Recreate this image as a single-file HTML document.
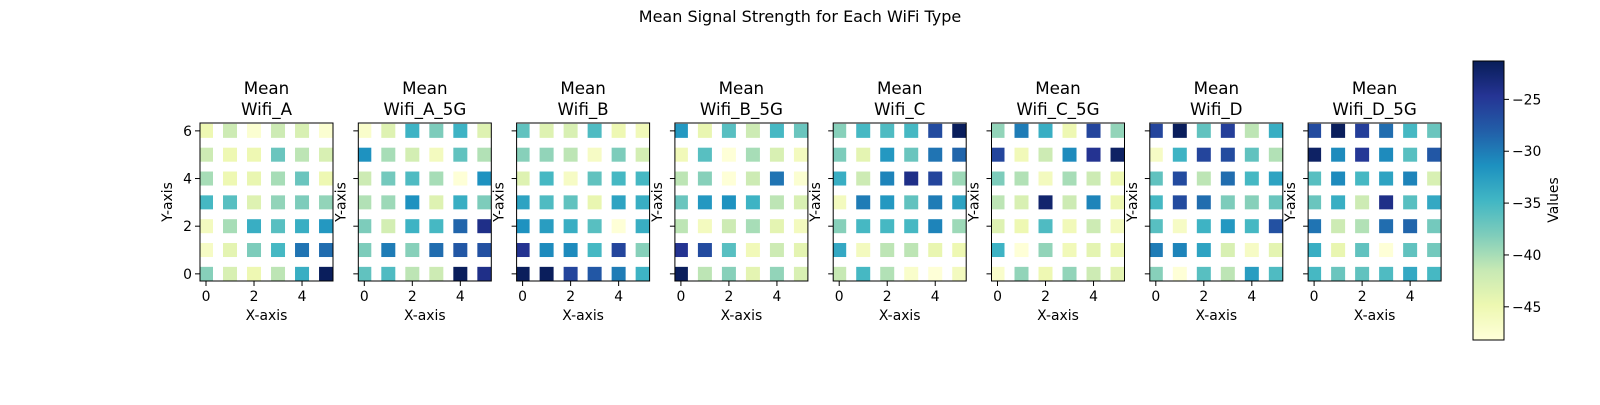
<!DOCTYPE html>
<html><head><meta charset="utf-8"><style>
body{margin:0;background:#fff}
svg text{font-family:"DejaVu Sans","Liberation Sans",sans-serif;fill:#000}
</style></head><body>
<svg id="fig" width="1600" height="400" xmlns="http://www.w3.org/2000/svg">
<rect width="1600" height="400" fill="#fff"/>
<text x="800" y="22" font-size="16" text-anchor="middle">Mean Signal Strength for Each WiFi Type</text>
<g id="panels"></g>
<g id="cbar"></g>
</svg>
<script>
const wifiTypes=["Wifi_A","Wifi_A_5G","Wifi_B","Wifi_B_5G","Wifi_C","Wifi_C_5G","Wifi_D","Wifi_D_5G"];
const xTicks=[0,2,4];
const yTicks=[0,2,4,6];
const cbTicks=[-25,-30,-35,-40,-45];
// rows listed y=6 (top) down to y=0, each row x=0..5
const wifiA=[[-45,-42,-47.5,-42,-43,-47.5],[-42,-45,-45,-37,-41,-43],[-40,-45,-44.5,-40,-37,-45],[-35,-36,-43.5,-39,-38,-39],[-46,-40,-34,-36,-34,-32],[-46.5,-44,-38,-35,-29.5,-29],[-38.5,-43,-45,-41,-34,-21.5]];
const wifiA5=[[-47,-43.5,-34.5,-38,-34.5,-43.5],[-31.5,-40,-42.5,-46,-36.5,-40.5],[-42,-37.5,-35.5,-40,-48,-31.5],[-40.5,-39.5,-31.5,-43.5,-34,-38],[-38,-42.5,-34.5,-35,-28.5,-24],[-38,-30,-38.5,-29,-27.5,-27],[-36.5,-35.5,-41,-42,-21.5,-24]];
const wifiB=[[-36.5,-43.5,-43,-35.5,-45,-45.5],[-38.5,-39,-41,-46.5,-38,-42.5],[-43.5,-35,-46.5,-36.5,-35,-35],[-33,-35.5,-36.5,-44.5,-33,-34],[-31.5,-32.5,-34,-36,-48,-34],[-24.5,-31,-31,-35,-26,-38.5],[-21.5,-21.5,-26,-27.5,-30,-34.5]];
const wifiB5=[[-32,-44.5,-36,-42,-35,-37],[-45.5,-36,-48,-40,-43,-46],[-41,-38.5,-48,-42,-29.5,-47.5],[-37,-32,-31.5,-34.5,-41,-43],[-41,-46,-42,-40,-44,-46],[-24.5,-26.5,-36,-45.5,-42,-44],[-21.5,-41,-38.5,-44,-39,-43]];
const wifiC=[[-38.5,-35,-35.5,-35,-26.5,-21.5],[-38,-44,-32,-37,-29.5,-28.5],[-34,-42,-30.5,-24,-26,-39.5],[-46,-30,-32,-36.5,-30,-33],[-38.5,-35,-35,-35,-30.5,-39.5],[-33.5,-46,-41,-41,-44.5,-45],[-41.5,-35,-40.5,-47,-48,-46]];
const wifiC5=[[-39,-30,-34,-45,-26,-39],[-26,-45.5,-42,-31,-24.5,-22],[-38,-40.5,-46,-40,-42,-45],[-41,-43,-22.5,-42,-30.5,-45],[-43.5,-45,-35.5,-45.5,-42,-46],[-34.5,-48,-39,-45.5,-44,-45],[-47,-39,-45,-39,-42,-44]];
const wifiD=[[-26,-21.5,-36.5,-25.5,-41,-34],[-46.5,-34.5,-26,-26.5,-36.5,-40.5],[-36.5,-26.5,-41,-29,-35,-33],[-35,-26.5,-29,-38,-38.5,-37],[-36,-46.5,-34.5,-32,-35,-27],[-30,-30.5,-33,-43,-46.5,-44],[-38.5,-48,-36,-41,-32.5,-35.5]];
const wifiD5=[[-26.5,-21.5,-25.5,-29,-35,-37],[-22,-31,-25,-31,-36,-27.5],[-36,-31,-35,-33,-30.5,-43],[-37,-34,-42,-24,-36,-33.5],[-29.5,-42,-40.5,-29,-28.5,-37.5],[-34,-44.5,-36.5,-48,-36.5,-37.5],[-35,-37,-36.5,-35.5,-33.5,-35]];
const allData=[wifiA,wifiA5,wifiB,wifiB5,wifiC,wifiC5,wifiD,wifiD5];
const vmin=-48.2,vmax=-21.3;
const stops=["#ffffd9","#edf8b1","#c7e9b4","#7fcdbb","#41b6c4","#1d91c0","#225ea8","#253494","#081d58"];
function hex(c){return [1,3,5].map(i=>parseInt(c.substr(i,2),16));}
function cmap(v){let t=(v-vmin)/(vmax-vmin);t=Math.max(0,Math.min(1,t));const p=t*(stops.length-1);const i=Math.min(stops.length-2,Math.floor(p));const f=p-i;const a=hex(stops[i]),b=hex(stops[i+1]);return "rgb("+a.map((x,k)=>Math.round(x+(b[k]-x)*f)).join(",")+")";}
const NS="http://www.w3.org/2000/svg";
function mk(tag,attrs,parent){const e=document.createElementNS(NS,tag);for(const k in attrs)e.setAttribute(k,attrs[k]);parent.appendChild(e);return e;}
const panels=document.getElementById("panels");
const pw=133,ph=158,top0=123;
const xmin=-0.25,xmax=5.29,ymin=-0.3,ymax=6.33;
allData.forEach((grid,p)=>{
  const left=200+p*158.3;
  const sx=v=>left+(v-xmin)/(xmax-xmin)*pw;
  const sy=v=>top0+ph-(v-ymin)/(ymax-ymin)*ph;
  const g=mk("g",{},panels);
  
  
  const cl=mk("clipPath",{id:"c"+p},g);mk("rect",{x:left,y:top0,width:pw,height:ph},cl);
  const cg=mk("g",{"clip-path":"url(#c"+p+")"},g);
  const sz=14;
  grid.forEach((row,ri)=>{const yv=6-ri;row.forEach((v,xi)=>{
    const r=mk("rect",{x:sx(xi)-sz/2,y:sy(yv)-sz/2,width:sz,height:sz,fill:cmap(v)},cg);
    
    
  });});
  const fr=mk("rect",{x:left,y:top0,width:pw,height:ph,fill:"none",stroke:"#000","stroke-width":1},g);
  
  
  xTicks.forEach(t=>{mk("line",{x1:sx(t),x2:sx(t),y1:top0+ph,y2:top0+ph+5,stroke:"#000"},g);
    const tx=mk("text",{x:sx(t),y:top0+ph+20,"font-size":"13.9","text-anchor":"middle"},g);tx.textContent=t;
    
    });
  yTicks.forEach(t=>{mk("line",{x1:left,x2:left-5,y1:sy(t),y2:sy(t),stroke:"#000"},g);
    if(p===0){const tx=mk("text",{x:left-8,y:sy(t)+5,"font-size":"13.9","text-anchor":"end"},g);tx.textContent=t;
    
    }});
  const xl=mk("text",{x:left+pw/2,y:top0+ph+39,"font-size":"13.9","text-anchor":"middle"},g);xl.textContent="X-axis";
  
  
  const ylx=p===0?left-28:left-13;
  const yl=mk("text",{x:ylx,y:top0+ph/2,"font-size":"13.9","text-anchor":"middle",transform:"rotate(-90 "+ylx+" "+(top0+ph/2)+")"},g);yl.textContent="Y-axis";
  
  
  const t1=mk("text",{x:left+pw/2,y:94,"font-size":"16.7","text-anchor":"middle"},g);t1.textContent="Mean";
  
  
  const t2=mk("text",{x:left+pw/2,y:115,"font-size":"16.7","text-anchor":"middle"},g);t2.textContent=wifiTypes[p];
  
  
});
// colorbar
const cb=document.getElementById("cbar");
const cbx=1473,cbw=31,cbt=61,cbb=340;
const defs=mk("defs",{},cb);const lg=mk("linearGradient",{id:"lg",x1:0,y1:1,x2:0,y2:0},defs);
stops.forEach((c,i)=>mk("stop",{offset:i/(stops.length-1),"stop-color":c},lg));
mk("rect",{x:cbx,y:cbt,width:cbw,height:cbb-cbt,fill:"url(#lg)",stroke:"#000"},cb);
const cy=v=>cbb-(v-vmin)/(vmax-vmin)*(cbb-cbt);
cbTicks.forEach(t=>{mk("line",{x1:cbx+cbw,x2:cbx+cbw+5,y1:cy(t),y2:cy(t),stroke:"#000"},cb);
  const tx=mk("text",{x:cbx+cbw+8,y:cy(t)+5,"font-size":"13.9"},cb);tx.textContent="\u2212"+Math.abs(t);
  
  });
const vl=mk("text",{x:1558,y:200,"font-size":"13.9","text-anchor":"middle",transform:"rotate(-90 1558 200)"},cb);vl.textContent="Values";


</script>
</body></html>
